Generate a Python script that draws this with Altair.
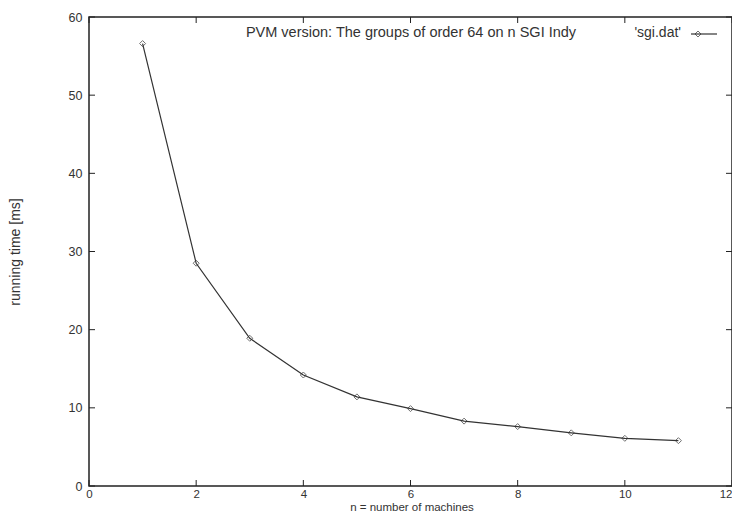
import altair as alt
import pandas as pd

machines = [1, 2, 3, 4, 5, 6, 7, 8, 9, 10, 11]
times_ms = [56.6, 28.5, 18.9, 14.2, 11.4, 9.9, 8.3, 7.6, 6.8, 6.1, 5.8]
x_ticks = [0, 2, 4, 6, 8, 10, 12]
y_ticks = [0, 10, 20, 30, 40, 50, 60]
title_text = "PVM version: The groups of order 64 on n SGI Indy"
legend_text = "'sgi.dat'"
x_title = "n = number of machines"
y_title = "running time [ms]"

W, H = 643, 469
INK = "#333333"
FONT = "Liberation Sans"

df = pd.DataFrame({"n": machines, "t": times_ms})
xt = pd.DataFrame({"v": x_ticks})
yt = pd.DataFrame({"v": y_ticks})

xs = alt.Scale(domain=[0, 12], nice=False, zero=False)
ys = alt.Scale(domain=[0, 60], nice=False, zero=False)

line = alt.Chart(df).mark_line(color=INK, strokeWidth=1.2).encode(
    x=alt.X("n:Q", scale=xs, axis=alt.Axis(
        values=x_ticks, format="d", title="", tickSize=0, domain=False,
        grid=False, labelFont=FONT, labelFontSize=11.5, labelColor=INK,
        labelAlign=alt.expr("datum.value == 12 ? 'right' : 'center'"),
        labelPadding=2, labelFlush=False)),
    y=alt.Y("t:Q", scale=ys, axis=alt.Axis(
        values=y_ticks, format="d", title=y_title, tickSize=0, domain=False,
        grid=False, labelFont=FONT, labelFontSize=12.5, labelColor=INK,
        labelPadding=7, titleFont=FONT, titleFontSize=14, titleFontWeight="normal",
        titleColor=INK, titleAngle=-90, titleX=-74, titleY=H / 2,
        titleAlign="center", titleBaseline="middle", labelFlush=False)),
)

pts = alt.Chart(df).mark_point(shape="diamond", filled=False, size=36,
                               color=INK, strokeWidth=1).encode(
    x=alt.X("n:Q", scale=xs), y=alt.Y("t:Q", scale=ys))

tick_style = dict(color="#222222", strokeWidth=1)
xb = alt.Chart(xt).mark_rule(**tick_style).encode(
    x=alt.X("v:Q", scale=xs), y=alt.value(H), y2=alt.value(H - 6))
xtop = alt.Chart(xt).mark_rule(**tick_style).encode(
    x=alt.X("v:Q", scale=xs), y=alt.value(0), y2=alt.value(6))
yl = alt.Chart(yt).mark_rule(**tick_style).encode(
    y=alt.Y("v:Q", scale=ys), x=alt.value(0), x2=alt.value(6))
yr = alt.Chart(yt).mark_rule(**tick_style).encode(
    y=alt.Y("v:Q", scale=ys), x=alt.value(W), x2=alt.value(W - 6))

title_mark = alt.Chart(pd.DataFrame({"s": [title_text]})).mark_text(
    font=FONT, fontSize=14.5, color=INK, align="center", baseline="middle").encode(
    text="s:N", x=alt.value(322), y=alt.value(16))

xtitle_mark = alt.Chart(pd.DataFrame({"s": [x_title]})).mark_text(
    font=FONT, fontSize=11.5, color=INK, align="center", baseline="alphabetic").encode(
    text="s:N", x=alt.value(323), y=alt.value(H + 25))

leg_text = alt.Chart(pd.DataFrame({"s": [legend_text]})).mark_text(
    font=FONT, fontSize=14, color=INK, align="right", baseline="middle").encode(
    text="s:N", x=alt.value(592), y=alt.value(16))
leg_line = alt.Chart(pd.DataFrame({"s": [legend_text]})).mark_rule(
    color=INK, strokeWidth=1.2).encode(
    x=alt.value(602), x2=alt.value(628), y=alt.value(17))
leg_pt = alt.Chart(pd.DataFrame({"s": [legend_text]})).mark_point(
    shape="diamond", filled=False, size=36, color=INK, strokeWidth=1).encode(
    x=alt.value(609), y=alt.value(17))

chart = alt.layer(line, pts, xb, xtop, yl, yr, title_mark, xtitle_mark,
                  leg_text, leg_line, leg_pt).properties(
    width=W, height=H,
    autosize=alt.AutoSizeParams(type="none"),
    padding={"left": 81, "top": 9, "right": 0, "bottom": 28},
    background="white",
).configure_view(stroke="#222222", strokeWidth=1.5)

chart.save("out.html", embed_options={"renderer": "svg", "actions": False})
